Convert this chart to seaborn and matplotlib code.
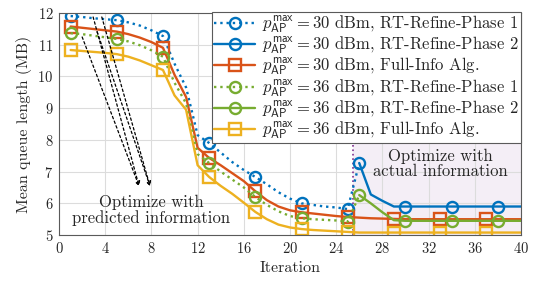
import numpy as np
import pandas as pd
import matplotlib
matplotlib.use('Agg')
import matplotlib.pyplot as plt
import seaborn as sns

# iterations
iter_p1 = list(range(1, 27))
iter_p2 = list(range(26, 41))
iter_full = list(range(1, 41))

# 30 dBm
rt1_30 = [11.9, 11.87, 11.83, 11.8, 11.77, 11.7, 11.6, 11.45, 11.27, 10.4,
          9.65, 8.15, 7.9, 7.6, 7.3, 7.05, 6.83, 6.6, 6.35, 6.15,
          6.0, 5.95, 5.9, 5.87, 5.82, 7.27]
rt2_30 = [7.27, 6.28, 6.08, 5.9, 5.9, 5.9, 5.9, 5.9, 5.9, 5.9,
          5.9, 5.9, 5.9, 5.9, 5.9]
full_30 = [11.57, 11.53, 11.49, 11.45, 11.41, 11.33, 11.22, 11.08, 10.9, 10.05,
           9.35, 7.75, 7.43, 7.2, 6.95, 6.7, 6.38, 6.1, 5.9, 5.78,
           5.72, 5.68, 5.64, 5.6, 5.57, 5.55, 5.53, 5.52, 5.51, 5.5,
           5.5, 5.5, 5.5, 5.5, 5.5, 5.5, 5.5, 5.5, 5.5, 5.5]

# 36 dBm
rt1_36 = [11.36, 11.33, 11.28, 11.23, 11.18, 11.1, 10.98, 10.82, 10.62, 9.8,
          9.15, 7.55, 7.27, 7.0, 6.75, 6.5, 6.2, 5.95, 5.75, 5.6,
          5.53, 5.5, 5.48, 5.46, 5.42, 6.26]
rt2_36 = [6.26, 6.0, 5.72, 5.47, 5.45, 5.45, 5.45, 5.45, 5.45, 5.45,
          5.45, 5.45, 5.45, 5.45, 5.45]
full_36 = [10.83, 10.8, 10.77, 10.74, 10.7, 10.62, 10.5, 10.35, 10.2, 9.4,
           8.95, 7.2, 6.83, 6.55, 6.3, 6.02, 5.73, 5.5, 5.33, 5.24,
           5.19, 5.16, 5.14, 5.12, 5.1, 5.08, 5.08, 5.08, 5.08, 5.08,
           5.08, 5.08, 5.08, 5.08, 5.08, 5.08, 5.08, 5.08, 5.08, 5.08]

lbl = r'$p_{\mathsf{AP}}^{\mathsf{max}}=%d$ dBm, %s'

sns.set_style('whitegrid', {'grid.color': '#dcdcdc', 'axes.edgecolor': '#5a5a5a'})
plt.rcParams['font.family'] = 'serif'
plt.rcParams['font.serif'] = ['cmr10', 'DejaVu Serif']
plt.rcParams['mathtext.fontset'] = 'cm'
plt.rcParams['axes.formatter.use_mathtext'] = True

fig = plt.figure(figsize=(5.37, 2.86), dpi=100)
ax = fig.add_axes([0.110, 0.178, 0.860, 0.777])

blue, orange, yellow, green = '#0072BD', '#D95319', '#EDB120', '#77AC30'
series = [
    (iter_p1, rt1_30, blue, ':', 'o', list(range(0, 25, 4)), lbl % (30, 'RT-Refine-Phase 1')),
    (iter_p2, rt2_30, blue, '-', 'o', 4, lbl % (30, 'RT-Refine-Phase 2')),
    (iter_full, full_30, orange, '-', 's', 4, lbl % (30, 'Full-Info Alg.')),
    (iter_p1, rt1_36, green, ':', 'o', list(range(0, 25, 4)), lbl % (36, 'RT-Refine-Phase 1')),
    (iter_p2, rt2_36, green, '-', 'o', 4, lbl % (36, 'RT-Refine-Phase 2')),
    (iter_full, full_36, yellow, '-', 's', 4, lbl % (36, 'Full-Info Alg.')),
]
for xs, ys, c, ls, m, every, name in series:
    sns.lineplot(x=xs, y=ys, ax=ax, color=c, linestyle=ls, marker=m, markevery=every,
                 markersize=8, markerfacecolor='none', markeredgecolor=c,
                 markeredgewidth=1.7, linewidth=1.7, label=name)

# shaded "actual information" region
ax.fill_between([25.5, 40], 5, 8.2, color='#7E2F8E', alpha=0.08, linewidth=0, zorder=0)
ax.plot([25.5, 25.5], [5, 8.2], color='#7E2F8E', linestyle=':', linewidth=1.2, zorder=1)
ax.text(33, 7.24, 'Optimize with\nactual information', ha='center', va='center',
        fontsize=12, linespacing=0.95)

# arrows to "predicted information"
arrow_starts = [(2.0, 11.24), (2.95, 11.87), (3.3, 11.4), (3.7, 11.87)]
arrow_tips = [(6.93, 6.54), (6.93, 6.54), (7.88, 6.54), (7.88, 6.54)]
for s, t in zip(arrow_starts, arrow_tips):
    ax.annotate('', xy=t, xytext=s,
                arrowprops=dict(arrowstyle='->', color='k', lw=0.9, mutation_scale=7,
                                linestyle=(0, (2, 2)), shrinkA=0, shrinkB=0))
ax.text(8.0, 5.78, 'Optimize with\npredicted information', ha='center', va='center',
        fontsize=12, linespacing=0.95)

ax.set_xlim(0, 40)
ax.set_ylim(5, 12)
ax.set_xticks(range(0, 41, 4))
ax.set_yticks(range(5, 13))
ax.tick_params(labelsize=10.5, length=0, pad=4)
ax.set_xlabel('Iteration', fontsize=11.5)
ax.set_ylabel('Mean queue length (MB)', fontsize=11.5)
for sp in ax.spines.values():
    sp.set_linewidth(0.8)

leg = ax.legend(loc='upper left', bbox_to_anchor=(0.395, 0.958), bbox_transform=fig.transFigure,
                fontsize=12, frameon=True, fancybox=False, framealpha=1, edgecolor='#5a5a5a',
                handlelength=2.5, labelspacing=0.0, borderpad=0.1, handletextpad=0.4,
                borderaxespad=0)
leg.get_frame().set_linewidth(0.8)

fig.savefig('out.png', dpi=100)
